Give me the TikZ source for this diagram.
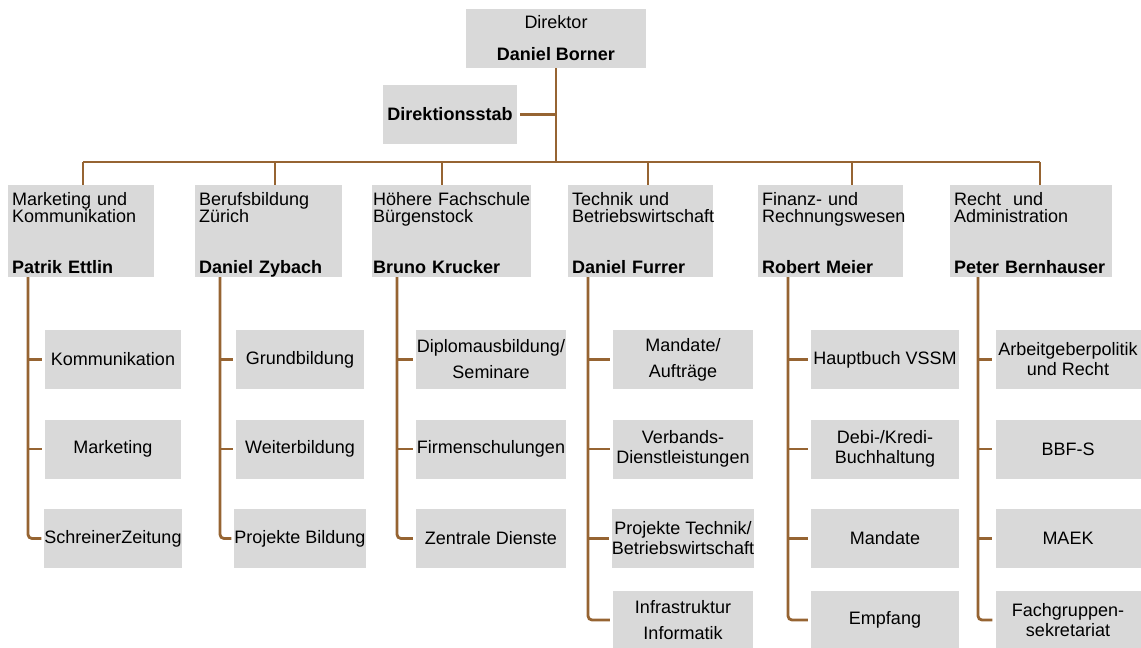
\documentclass[tikz,border=0pt]{standalone}
\usepackage{fontspec}
\setmainfont{Liberation Sans}
\definecolor{orgline}{RGB}{150,100,50}
\definecolor{orgfill}{RGB}{217,217,217}
\newcommand{\utop}{\rule{0pt}{20pt}}
\newcommand{\ubot}{\rule[-4pt]{0pt}{4pt}}
\tikzset{
  px/.style={x=1pt, y=-1pt},
  o box/.style={fill=orgfill, inner sep=0pt, align=center, font=\fontsize{18}{20}\selectfont},
  o head/.style={o box, minimum width=180pt, minimum height=59pt, font=\fontsize{18}{17}\selectfont},
  o unit/.style={o box, anchor=north west, inner xsep=4pt, inner ysep=0pt, align=left, font=\fontsize{18}{17}\selectfont},
  o sub/.style={o box, minimum height=59pt},
  o line/.style={draw=orgline, line width=2.8pt},
  o tick/.style={o line, shorten >=3pt},
}
\begin{document}
\begin{tikzpicture}[px]
\useasboundingbox (0,0) rectangle (1141,648);
% ---- top ----
\node[o head] (dir) at (556,38.5) {Direktor\\[15pt]\textbf{Daniel Borner}};
\node[o box, minimum width=134pt, minimum height=59pt] (stab) at (450,114.5) {\textbf{Direktionsstab}};
\coordinate (j1) at (83,162); \coordinate (j2) at (275,162); \coordinate (j3) at (442,162);
\coordinate (j4) at (648,162); \coordinate (j5) at (852,162); \coordinate (j6) at (1040,162);
\draw[o line] (dir.south) -- (dir.south |- j1);
\draw[o line, shorten <=3pt] (stab.east) -- (stab.east -| dir.south);
\draw[o line] (j1) -- (j6);
% ---- units ----
\node[o unit, text width=138pt] (a0) at (8,185) {\utop Marketing und\\Kommunikation\\[34pt]\textbf{Patrik Ettlin}\ubot};
\node[o unit, text width=139pt] (b0) at (195,185) {\utop Berufsbildung\\Zürich\\[34pt]\textbf{Daniel Zybach}\ubot};
\node[o unit, text width=157pt, inner xsep=1pt] (c0) at (372,185) {\utop\mbox{Höhere Fachschule}\\Bürgenstock\\[34pt]\textbf{Bruno Krucker}\ubot};
\node[o unit, text width=137pt] (d0) at (568,185) {\utop Technik und\\Betriebswirtschaft\\[34pt]\textbf{Daniel Furrer}\ubot};
\node[o unit, text width=137pt] (e0) at (758,185) {\utop Finanz- und\\Rechnungswesen\\[34pt]\textbf{Robert Meier}\ubot};
\node[o unit, text width=154pt] (f0) at (950,185) {\utop Recht\ \ und\\Administration\\[34pt]\textbf{Peter Bernhauser}\ubot};
\foreach \j/\u in {j1/a0,j2/b0,j3/c0,j4/d0,j5/e0,j6/f0} \draw[o line] (\j) -- (\j |- \u.north);
% ---- Marketing ----
\node[o sub, minimum width=136pt] (a1) at (113,359.5) {Kommunikation};
\node[o sub, minimum width=136pt] (a2) at (113,449) {Marketing};
\node[o sub, minimum width=136pt] (a3) at (113,538.5) {SchreinerZeitung};
\coordinate (as) at (28,277);
\draw[o tick] (as |- a1) -- (a1.west); \draw[o tick] (as |- a2) -- (a2.west);
\draw[o tick, rounded corners=4pt] (as) |- (a3.west);
% ---- Berufsbildung ----
\node[o sub, minimum width=128pt] (b1) at (300,359.5) {Grundbildung};
\node[o sub, minimum width=128pt] (b2) at (300,449) {Weiterbildung};
\node[o sub, minimum width=128pt] (b3) at (300,538.5) {Projekte Bildung};
\coordinate (bs) at (220,277);
\draw[o tick] (bs |- b1) -- (b1.west); \draw[o tick] (bs |- b2) -- (b2.west);
\draw[o tick, rounded corners=4pt] (bs) |- (b3.west);
% ---- Fachschule ----
\node[o sub, minimum width=150pt] (c1) at (491,359.5) {Diplomausbildung/\\[6pt]Seminare};
\node[o sub, minimum width=150pt] (c2) at (491,449) {Firmenschulungen};
\node[o sub, minimum width=150pt] (c3) at (491,538.5) {Zentrale Dienste};
\coordinate (cs) at (397,277);
\draw[o tick] (cs |- c1) -- (c1.west); \draw[o tick] (cs |- c2) -- (c2.west);
\draw[o tick, rounded corners=4pt] (cs) |- (c3.west);
% ---- Technik ----
\node[o sub, minimum width=140pt] (d1) at (683,359.5) {Mandate/\\[6pt]Aufträge};
\node[o sub, minimum width=140pt] (d2) at (683,449) {Verbands-\\Dienstleistungen};
\node[o sub, minimum width=140pt] (d3) at (683,538.5) {Projekte Technik/\\Betriebswirtschaft};
\node[o sub, minimum width=140pt, minimum height=58pt] (d4) at (683,620) {Infrastruktur\\[6pt]Informatik};
\coordinate (ds) at (588,277);
\draw[o tick] (ds |- d1) -- (d1.west); \draw[o tick] (ds |- d2) -- (d2.west);
\draw[o tick] (ds |- d3) -- (d3.west);
\draw[o tick, rounded corners=4pt] (ds) |- (d4.west);
% ---- Finanz ----
\node[o sub, minimum width=148pt] (e1) at (885,359.5) {Hauptbuch VSSM};
\node[o sub, minimum width=148pt] (e2) at (885,449) {Debi-/Kredi-\\Buchhaltung};
\node[o sub, minimum width=148pt] (e3) at (885,538.5) {Mandate};
\node[o sub, minimum width=148pt, minimum height=58pt] (e4) at (885,620) {Empfang};
\coordinate (es) at (788,277);
\draw[o tick] (es |- e1) -- (e1.west); \draw[o tick] (es |- e2) -- (e2.west);
\draw[o tick] (es |- e3) -- (e3.west);
\draw[o tick, rounded corners=4pt] (es) |- (e4.west);
% ---- Recht ----
\node[o sub, minimum width=145pt] (f1) at (1068,359.5) {Arbeitgeberpolitik\\und Recht};
\node[o sub, minimum width=145pt] (f2) at (1068,449) {BBF-S};
\node[o sub, minimum width=145pt] (f3) at (1068,538.5) {MAEK};
\node[o sub, minimum width=145pt, minimum height=58pt] (f4) at (1068,620) {Fachgruppen-\\sekretariat};
\coordinate (fs) at (978,277);
\draw[o tick] (fs |- f1) -- (f1.west); \draw[o tick] (fs |- f2) -- (f2.west);
\draw[o tick] (fs |- f3) -- (f3.west);
\draw[o tick, rounded corners=4pt] (fs) |- (f4.west);
\end{tikzpicture}
\end{document}
